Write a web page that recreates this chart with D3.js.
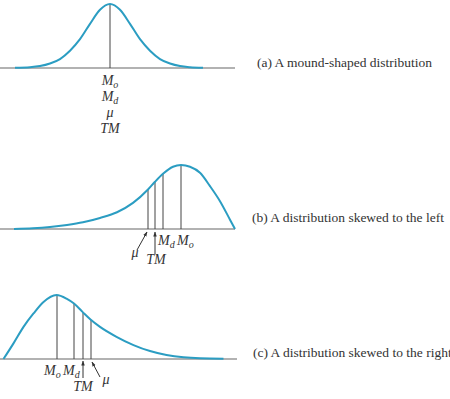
<!DOCTYPE html>
<html>
<head>
<meta charset="utf-8">
<script src="https://cdn.jsdelivr.net/npm/d3@7"></script>
<style>
  body { margin: 0; background: #fff; }
  text { font-family: "Liberation Serif", "DejaVu Serif", serif; fill: #333; }
</style>
</head>
<body>
<div id="chart"></div>
<script>
// curve points: [x, relative height], x in units (0..47)
var curveA = [[3, 0.003], [6, 0.012], [8, 0.03], [10, 0.07], [12, 0.14], [14, 0.27], [16, 0.45],
  [18, 0.69], [20, 0.91], [22, 1], [24, 0.91], [26, 0.69], [28, 0.45], [30, 0.27], [32, 0.14],
  [34, 0.07], [36, 0.03], [38, 0.012], [40.6, 0.003]];
var curveB = [[2.8, 0], [6.6, 0.011], [10, 0.031], [13.4, 0.063], [16.6, 0.105], [20, 0.173],
  [23.4, 0.262], [26.6, 0.408], [29.6, 0.617], [31, 0.738], [32.6, 0.863], [34.6, 0.973],
  [36.2, 1], [38, 0.973], [40, 0.879], [42, 0.67], [44, 0.435], [46, 0.146], [47, 0]];
var curveC = [[0.7, 0], [2.7, 0.244], [4.7, 0.502], [6.7, 0.711], [8.7, 0.891], [11.3, 1],
  [13.3, 0.944], [14.8, 0.866], [16.5, 0.736], [18.1, 0.617], [20, 0.502], [23.3, 0.347],
  [26.7, 0.218], [30, 0.124], [33.3, 0.062], [36.7, 0.026], [40, 0.011], [44.7, 0.005]];

// measures of center per panel
var statsA = { Mo: 22, Md: 22, mu: 22, TM: 22 };
var statsB = { mu: 29.6, TM: 31, Md: 32.6, Mo: 36.2 };
var statsC = { Mo: 11.4, Md: 14.8, TM: 16.6, mu: 18.2 };

var captions = ["(a) A mound-shaped distribution", "(b) A distribution skewed to the left",
  "(c) A distribution skewed to the right"];

const width = 450, height = 399;
const svg = d3.select("#chart").append("svg")
  .attr("width", width).attr("height", height);

svg.append("defs").append("marker")
  .attr("id", "arr").attr("viewBox", "0 0 10 10")
  .attr("refX", 9).attr("refY", 5)
  .attr("markerWidth", 5).attr("markerHeight", 5)
  .attr("orient", "auto")
  .append("path").attr("d", "M0,1.5 L10,5 L0,8.5 z").attr("fill", "#333");

const x = d3.scaleLinear().domain([0, 50]).range([0, 250]);

// baseline y, baseline length, caption placement
const panels = [
  { curve: curveA, stats: statsA, base: 68, end: 47, cap: [257, 67] },
  { curve: curveB, stats: statsB, base: 229, end: 47, cap: [252, 222] },
  { curve: curveC, stats: statsC, base: 359, end: 47.4, cap: [253, 357] }
];

function yOnPath(node, px) {
  var len = node.getTotalLength(), lo = 0, hi = len;
  for (var k = 0; k < 40; k++) {
    var mid = (lo + hi) / 2;
    if (node.getPointAtLength(mid).x < px) lo = mid; else hi = mid;
  }
  return node.getPointAtLength((lo + hi) / 2).y;
}

function subLabel(g, tx, ty, sub, anchor) {
  var t = g.append("text").attr("x", tx).attr("y", ty)
    .attr("font-size", 14).attr("font-style", "italic")
    .attr("text-anchor", anchor || "start");
  t.append("tspan").text("M");
  t.append("tspan").attr("font-size", 10).attr("dy", 3).text(sub);
  return t;
}

function plainLabel(g, tx, ty, s) {
  return g.append("text").attr("x", tx).attr("y", ty)
    .attr("font-size", 14).attr("font-style", "italic")
    .attr("text-anchor", "middle").text(s);
}

panels.forEach(function (p, i) {
  const g = svg.append("g");
  const y = d3.scaleLinear().domain([0, 1]).range([p.base, p.base - 64]);

  g.append("line")
    .attr("x1", x(0)).attr("x2", x(p.end))
    .attr("y1", p.base).attr("y2", p.base)
    .attr("stroke", "#666").attr("stroke-width", 1.2);

  const path = g.append("path")
    .datum(p.curve)
    .attr("d", d3.line().x(d => x(d[0])).y(d => y(d[1])).curve(d3.curveMonotoneX))
    .attr("fill", "none").attr("stroke", "#2b9dc2").attr("stroke-width", 2);

  const node = path.node();
  const vals = Array.from(new Set(Object.values(p.stats)));
  vals.forEach(function (v) {
    g.insert("line", "path")
      .attr("x1", x(v)).attr("x2", x(v))
      .attr("y1", p.base).attr("y2", yOnPath(node, x(v)))
      .attr("stroke", "#444").attr("stroke-width", 1);
  });

  g.append("text").attr("x", p.cap[0]).attr("y", p.cap[1])
    .attr("font-size", 13.5).text(captions[i]);

  const s = p.stats;
  if (i === 0) {
    subLabel(g, x(s.Mo), p.base + 17, "o", "middle");
    subLabel(g, x(s.Md), p.base + 33, "d", "middle");
    plainLabel(g, x(s.mu), p.base + 49, "\u03bc");
    plainLabel(g, x(s.TM), p.base + 65, "TM");
  } else if (i === 1) {
    subLabel(g, x(s.Md) - 5, p.base + 16, "d");
    subLabel(g, x(s.Mo) - 4, p.base + 16, "o");
    plainLabel(g, x(s.mu) - 13, p.base + 28, "\u03bc");
    plainLabel(g, x(s.TM) + 1, p.base + 35, "TM");
    g.append("line").attr("x1", x(s.mu) - 11).attr("y1", p.base + 21)
      .attr("x2", x(s.mu) - 1).attr("y2", p.base + 3)
      .attr("stroke", "#333").attr("marker-end", "url(#arr)");
    g.append("line").attr("x1", x(s.TM)).attr("y1", p.base + 25)
      .attr("x2", x(s.TM)).attr("y2", p.base + 3)
      .attr("stroke", "#333").attr("marker-end", "url(#arr)");
  } else {
    subLabel(g, x(s.Mo) - 13, p.base + 16, "o");
    subLabel(g, x(s.Md) - 11, p.base + 16, "d");
    plainLabel(g, x(s.TM), p.base + 32, "TM");
    plainLabel(g, x(s.mu) + 15, p.base + 25, "\u03bc");
    g.append("line").attr("x1", x(s.TM)).attr("y1", p.base + 19)
      .attr("x2", x(s.TM)).attr("y2", p.base + 2)
      .attr("stroke", "#333").attr("marker-end", "url(#arr)");
    g.append("line").attr("x1", x(s.mu) + 9).attr("y1", p.base + 18)
      .attr("x2", x(s.mu) + 1).attr("y2", p.base + 3)
      .attr("stroke", "#333").attr("marker-end", "url(#arr)");
  }
});
</script>
</body>
</html>
